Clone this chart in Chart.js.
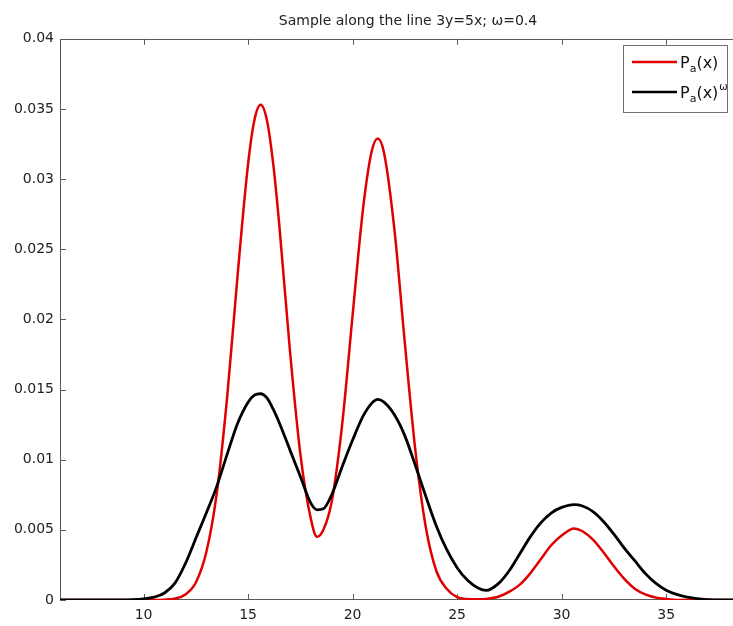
<!DOCTYPE html>
<html>
<head>
<meta charset="utf-8">
<script src="https://cdn.jsdelivr.net/npm/chart.js@4.4.0/dist/chart.umd.min.js"></script>
<style>
  html, body { margin: 0; padding: 0; background: #fff; overflow: hidden; }
  #wrap { width: 760px; height: 626px; }
</style>
</head>
<body>
<div id="wrap"><canvas id="chart1" width="760" height="626"></canvas></div>
<script>
// valeurs
const xs = [6, 9, 9.5, 10, 10.5, 11, 11.5, 12, 12.5, 13,
    13.5, 14, 14.5, 15, 15.3, 15.6, 15.9, 16.2, 16.5, 17,
    17.5, 18, 18.3, 18.6, 19, 19.5, 20, 20.5, 20.9, 21.2,
    21.5, 22, 22.5, 23, 23.5, 24, 24.5, 25, 25.5, 26,
    26.4, 27, 27.5, 28, 28.5, 29, 29.5, 30, 30.6, 31,
    31.5, 32, 32.5, 33, 33.5, 34, 34.5, 35, 35.5, 36,
    36.5, 37, 39.3];

const redVals = [0, 0, 0, 0, 0, 0.00002, 0.0001, 0.0004, 0.00125, 0.0034,
    0.0076, 0.0145, 0.0232, 0.0311, 0.0342, 0.0353, 0.0342, 0.0311, 0.0266, 0.0178,
    0.0104, 0.0058, 0.0045, 0.0050, 0.0070, 0.0125, 0.0203, 0.0279, 0.0319, 0.0329,
    0.0319, 0.0264, 0.0183, 0.0107, 0.0052, 0.0021, 0.0008, 0.0002, 0.00007, 0.00005,
    0.00008, 0.00025, 0.0006, 0.0011, 0.0019, 0.0029, 0.0039, 0.0046, 0.0051, 0.0049,
    0.0043, 0.0034, 0.0024, 0.0015, 0.0008, 0.0004, 0.00018, 0.00007, 0, 0,
    0, 0, 0];

const blackVals = [0, 0, 0.00002, 0.00008, 0.0002, 0.0005, 0.0012, 0.0026, 0.0044, 0.0062,
    0.0081, 0.0104, 0.0126, 0.0141, 0.0146, 0.0147, 0.0144, 0.0136, 0.0126, 0.0107,
    0.0088, 0.0069, 0.00643, 0.0065, 0.0075, 0.0095, 0.0114, 0.0131, 0.0140, 0.0143,
    0.0141, 0.0132, 0.0117, 0.0096, 0.0074, 0.0053, 0.0036, 0.0023, 0.0014, 0.00085,
    0.00068, 0.0012, 0.0021, 0.0033, 0.0045, 0.0055, 0.0062, 0.0066, 0.0068, 0.0067,
    0.0063, 0.0056, 0.0047, 0.0037, 0.0028, 0.0019, 0.0012, 0.0007, 0.0004, 0.0002,
    0.0001, 0.00003, 0];

const xTicks = [10, 15, 20, 25, 30, 35];
const yTicks = [0, 0.005, 0.01, 0.015, 0.02, 0.025, 0.03, 0.035, 0.04];

// legenda: P, indice, resto, expoente
const legendItems = [
    { base: 'P', sub: 'a', rest: '(x)', sup: '', color: '#e00000' },
    { base: 'P', sub: 'a', rest: '(x)', sup: 'ω', color: '#000000' }
];

const FONT = 'DejaVu Sans';

// caixa dos eixos com marcas para dentro (estilo matlab)
const frame = {
    id: 'frame',
    beforeDatasetsDraw(chart) {
        const { ctx, chartArea: a, scales: { x, y } } = chart;
        ctx.save();
        ctx.strokeStyle = '#5a5a5a';
        ctx.lineWidth = 1;
        ctx.strokeRect(Math.round(a.left) + 0.5, Math.round(a.top) + 0.5,
            Math.round(a.right - a.left), Math.round(a.bottom - a.top) - 1);
        ctx.beginPath();
        xTicks.forEach(v => {
            const px = Math.round(x.getPixelForValue(v)) + 0.5;
            ctx.moveTo(px, a.bottom); ctx.lineTo(px, a.bottom - 6);
            ctx.moveTo(px, a.top); ctx.lineTo(px, a.top + 6);
        });
        yTicks.forEach(v => {
            const py = Math.round(y.getPixelForValue(v)) + 0.5;
            ctx.moveTo(a.left, py); ctx.lineTo(a.left + 6, py);
            ctx.moveTo(a.right, py); ctx.lineTo(a.right - 6, py);
        });
        ctx.stroke();
        ctx.restore();
    },
    afterDatasetsDraw(chart) {
        const { ctx } = chart;
        const bx = 623, by = 45, bw = 104, bh = 67;
        ctx.save();
        ctx.fillStyle = '#fff';
        ctx.fillRect(bx, by, bw, bh);
        ctx.strokeStyle = '#707070';
        ctx.lineWidth = 1;
        ctx.strokeRect(bx + 0.5, by + 0.5, bw, bh);
        legendItems.forEach((it, i) => {
            const cy = 62 + i * 30;
            ctx.strokeStyle = it.color;
            ctx.lineWidth = 2.5;
            ctx.beginPath();
            ctx.moveTo(632, cy); ctx.lineTo(677, cy);
            ctx.stroke();
            ctx.fillStyle = '#111';
            ctx.textBaseline = 'alphabetic';
            ctx.font = '16px "' + FONT + '"';
            let tx = 680;
            ctx.fillText(it.base, tx, cy + 6);
            tx += ctx.measureText(it.base).width;
            ctx.font = '11px "' + FONT + '"';
            ctx.fillText(it.sub, tx, cy + 10);
            tx += ctx.measureText(it.sub).width;
            ctx.font = '16px "' + FONT + '"';
            ctx.fillText(it.rest, tx, cy + 6);
            tx += ctx.measureText(it.rest).width;
            if (it.sup) {
                ctx.font = '10px "' + FONT + '"';
                ctx.fillText(it.sup, tx + 1, cy - 2);
            }
        });
        ctx.restore();
    }
};

const ctx1 = document.getElementById('chart1').getContext('2d');
const chart1 = new Chart(ctx1, {
    type: 'line',
    data: {
        datasets: [
            {
                label: 'Pa(x)',
                data: xs.map((v, i) => ({ x: v, y: redVals[i] })),
                borderColor: '#e00000',
                borderWidth: 2.5,
                pointRadius: 0,
                cubicInterpolationMode: 'monotone',
                fill: false,
                order: 1
            },
            {
                label: 'Pa(x)ω',
                data: xs.map((v, i) => ({ x: v, y: blackVals[i] })),
                borderColor: '#000000',
                borderWidth: 2.8,
                pointRadius: 0,
                cubicInterpolationMode: 'monotone',
                fill: false,
                order: 0
            }
        ]
    },
    options: {
        responsive: false,
        animation: false,
        devicePixelRatio: 1,
        layout: { padding: { left: 0, right: 4, top: 0, bottom: 0 } },
        plugins: {
            legend: { display: false },
            tooltip: { enabled: false },
            title: {
                display: true,
                text: 'Sample along the line 3y=5x; ω=0.4',
                fullSize: false,
                color: '#222',
                font: { family: FONT, size: 14, weight: 'normal' },
                padding: { top: 13, bottom: 9 }
            }
        },
        scales: {
            x: {
                type: 'linear',
                min: 6,
                max: 39.3,
                grid: { display: false, drawTicks: false },
                border: { display: false },
                afterBuildTicks: s => { s.ticks = xTicks.map(v => ({ value: v })); },
                afterFit: s => { s.height = 26; },
                ticks: {
                    color: '#222',
                    font: { family: FONT, size: 14 },
                    padding: 7,
                    maxRotation: 0,
                    callback: v => String(v)
                }
            },
            y: {
                type: 'linear',
                min: 0,
                max: 0.04,
                grid: { display: false, drawTicks: false },
                border: { display: false },
                afterBuildTicks: s => { s.ticks = yTicks.map(v => ({ value: v })); },
                afterFit: s => { s.width = 60; },
                ticks: {
                    color: '#222',
                    font: { family: FONT, size: 14 },
                    padding: 6,
                    callback: v => String(v)
                }
            }
        }
    },
    plugins: [frame]
});
</script>
</body>
</html>
